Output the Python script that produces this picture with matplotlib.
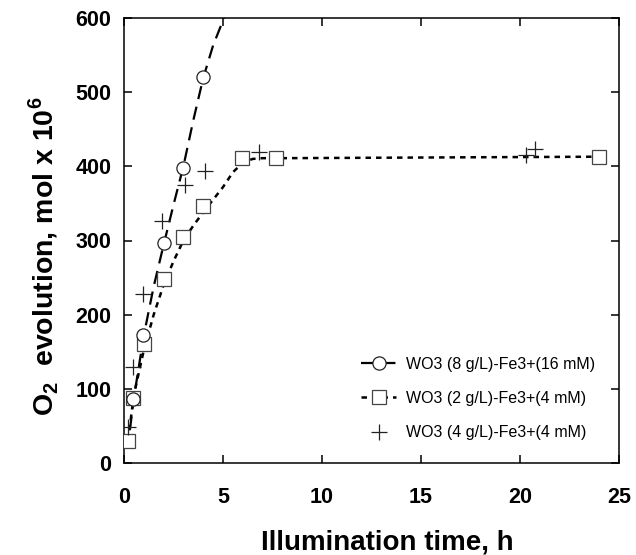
import matplotlib
matplotlib.use("Agg")
import matplotlib.pyplot as plt
from matplotlib.lines import Line2D

plt.rcParams['font.family'] = ['Liberation Sans', 'DejaVu Sans']
plt.rcParams['mathtext.fontset'] = 'custom'
plt.rcParams['mathtext.bf'] = 'Liberation Sans:bold'
plt.rcParams['mathtext.rm'] = 'Liberation Sans'

# measured points
circ_x = [0.47, 0.97, 2.0, 3.0, 4.0]
circ_y = [86, 173, 296, 398, 520]
sq_x = [0.22, 0.47, 1.0, 2.0, 3.0, 4.0, 5.96, 7.7, 24.0]
sq_y = [30, 88, 161, 248, 305, 347, 411, 411, 412]
plus_x = [0.2, 0.47, 0.97, 1.9, 3.1, 4.1, 6.8, 20.3, 20.75]
plus_y = [48, 130, 228, 326, 375, 394, 419, 415, 424]

# fitted curves
circ_fit_x = [0.3, 0.5, 1.0, 1.5, 2.0, 2.5, 3.0, 3.5, 4.0, 4.5, 5.05]
circ_fit_y = [45, 88, 172, 238, 294, 348, 400, 462, 519, 563, 600]
sq_fit_x = [0.2, 0.5, 1.0, 1.5, 2.0, 2.5, 3.0, 3.5, 4.0, 4.5, 5.0, 5.5, 6.0, 6.5, 7.0, 8.0, 24.0]
sq_fit_y = [30, 92, 152, 200, 240, 272, 300, 320, 338, 355, 372, 392, 405, 410, 411, 411, 413]

labels = ["WO3 (8 g/L)-Fe3+(16 mM)", "WO3 (2 g/L)-Fe3+(4 mM)", "WO3 (4 g/L)-Fe3+(4 mM)"]
x_ticks = [0, 5, 10, 15, 20, 25]
y_ticks = [0, 100, 200, 300, 400, 500, 600]

fig = plt.figure(figsize=(6.36, 5.55), dpi=100)
ax = fig.add_axes([124/636, (555-463)/555, (619-124)/636, (463-18)/555])

ax.plot(circ_fit_x, circ_fit_y, color='black', lw=1.6, dashes=(6, 3.5), zorder=2)
ax.plot(sq_fit_x, sq_fit_y, color='black', lw=1.8, dashes=(2.2, 2.0), zorder=2)

ax.plot(circ_x, circ_y, ls='none', marker='o', ms=9.5, mfc='white', mec='#222222', mew=0.9, zorder=4)
ax.plot(sq_x, sq_y, ls='none', marker='s', ms=9.5, mfc='white', mec='#444444', mew=0.9, zorder=3)
ax.plot(plus_x, plus_y, ls='none', marker='+', ms=12, mec='#222222', mew=0.9, zorder=5)

ax.set_xlim(0, 25)
ax.set_ylim(0, 600)
ax.set_xticks(x_ticks)
ax.set_yticks(y_ticks)
ax.tick_params(direction='in', length=6, width=1.1, top=True, right=True, labelsize=15.5)
ax.tick_params(axis='y', pad=9)
ax.tick_params(axis='x', pad=17)
for lab in ax.get_xticklabels() + ax.get_yticklabels():
    lab.set_fontweight('bold')
for s in ax.spines.values():
    s.set_linewidth(1.1)

ax.set_xlabel("Illumination time, h", fontsize=20, fontweight='bold')
ax.xaxis.set_label_coords(0.531, -0.149)
ax.set_ylabel(r"O$_{\mathbf{2}}$  evolution, mol x 10$^{\mathbf{6}}$", fontsize=20.5,
              fontweight='bold')
ax.yaxis.set_label_coords(-0.128, 0.465)

h1 = Line2D([], [], color='black', lw=1.6, dashes=(6, 3.5), marker='o', ms=9.5,
            mfc='white', mec='#222222', mew=0.9)
h2 = Line2D([], [], color='black', lw=1.8, dashes=(2.2, 2.0), marker='s', ms=9.5,
            mfc='white', mec='#444444', mew=0.9)
h3 = Line2D([], [], ls='none', marker='+', ms=12, mec='#222222', mew=0.9)
ax.legend([h1, h2, h3], labels, loc='center left', bbox_to_anchor=(0.45, 0.145),
          frameon=False, fontsize=11.5, handlelength=2.2, handletextpad=0.6,
          labelspacing=1.2)

fig.savefig("out.png", dpi=100)
